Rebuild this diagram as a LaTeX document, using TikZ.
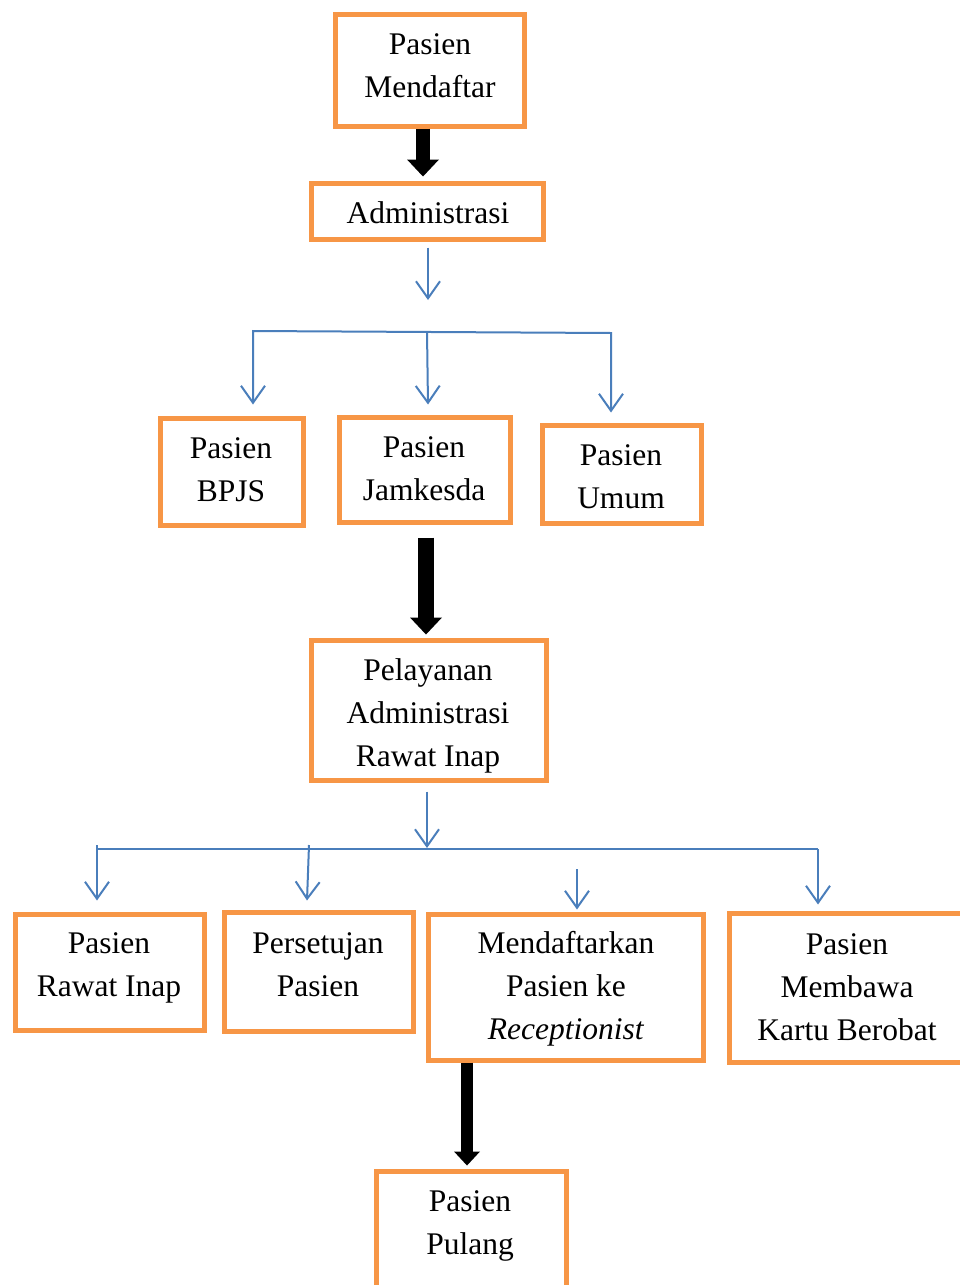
\documentclass[tikz,border=0pt]{standalone}
\usepackage{fontspec}
\setmainfont{Liberation Serif}
\usetikzlibrary{arrows.meta}
\definecolor{orng}{HTML}{F79646}
\definecolor{blu}{HTML}{4A7EBB}
\begin{document}
\begin{tikzpicture}[x=1pt,y=-1pt,
  box/.style={draw=orng,line width=5pt,inner sep=0pt,rectangle},
  txt/.style={align=center,inner sep=0pt,font=\fontsize{31.5}{43}\selectfont},
  bl/.style={draw=blu,line width=2pt},
  barb/.style={-{Straight Barb[length=17pt,width=24pt]}},
  blk/.style={draw=black,line width=14pt,-{Triangle[length=17pt,width=32pt,line width=0pt]}}]
\clip (0,0) rectangle (960,1285);
\fill[white] (0,0) rectangle (960,1285);
% boxes
\node[box,minimum width=189pt,minimum height=112pt] (b1) at (429.5,70) {};
\node[box,minimum width=232pt,minimum height=56pt] (b2) at (427,211) {};
\node[box,minimum width=143pt,minimum height=107pt] (b3) at (231.5,471.5) {};
\node[box,minimum width=171pt,minimum height=105pt] (b4) at (424.5,469.5) {};
\node[box,minimum width=159pt,minimum height=98pt] (b5) at (621.5,474) {};
\node[box,minimum width=235pt,minimum height=140pt] (b6) at (428.5,710) {};
\node[box,minimum width=189pt,minimum height=116pt] (b7) at (109.5,972) {};
\node[box,minimum width=189pt,minimum height=119pt] (b8) at (318.5,971.5) {};
\node[box,minimum width=275pt,minimum height=146pt] (b9) at (565.5,987) {};
\node[box,minimum width=236pt,minimum height=149pt] (b10) at (847,987.5) {};
\node[box,minimum width=190pt,minimum height=119pt] (b11) at (471,1230.5) {};
% texts
\node[txt] (t1) at (430,66) {Pasien\\Mendaftar};
\node[txt] (t2) at (428,213) {Administrasi};
\node[txt] (t3) at (231,470) {Pasien\\BPJS};
\node[txt] (t4) at (424,469) {Pasien\\Jamkesda};
\node[txt] (t5) at (621,477) {Pasien\\Umum};
\node[txt] (t6) at (428,716) {Pelayanan\\Administrasi\\Rawat Inap};
\node[txt] (t7) at (109,968) {Pasien\\Rawat Inap};
\node[txt] (t8) at (318,965) {Persetujan\\Pasien};
\node[txt] (t9) at (566,989) {Mendaftarkan\\Pasien ke\\\textit{Receptionist}};
\node[txt] (t10) at (847,987) {Pasien\\Membawa\\Kartu Berobat};
\node[txt] (t11) at (470,1226) {Pasien\\Pulang};
% black arrows
\draw[blk,shorten >=4pt] ([xshift=-6.5pt]b1.south) -- ([xshift=-6.5pt]b1.south |- b2.north);
\draw[blk,line width=16pt,shorten <=13pt,shorten >=3pt] ([xshift=1.5pt]b4.south) -- ([xshift=1.5pt]b4.south |- b6.north);
\draw[draw=black,line width=12pt,-{Triangle[length=14pt,width=26pt,line width=0pt]},shorten >=3pt] ([xshift=-98.5pt]b9.south) -- ([xshift=-98.5pt]b9.south |- b11.north);
% blue connectors, upper
\coordinate (c1) at (253,331);
\coordinate (c2) at (611,333);
\coordinate (c3) at (427,331.5);
\draw[bl,barb] ([xshift=1pt,yshift=-6pt]b2.south) -- (428,300) coordinate (e1);
\draw[bl,{Straight Barb[length=17pt,width=24pt]}-{Straight Barb[length=17pt,width=24pt]}]
  ([xshift=21.5pt,yshift=11pt]b3.north) -- (c1) -- (c2) -- ([xshift=-10.5pt,yshift=10pt]b5.north);
\draw[bl,barb] (c3) -- ([xshift=3.5pt,yshift=10pt]b4.north);
% blue connectors, lower
\coordinate (d1) at (97,849);
\coordinate (d2) at (818,849);
\coordinate (d3) at (309,845);
\coordinate (d4) at (97,845);
\coordinate (d5) at (577,869);
\draw[bl] (d1) -- (d2);
\draw[bl,barb] ([xshift=-1.5pt,yshift=-9pt]b6.south) -- (427,848) coordinate (e2);
\draw[bl,barb] (d4) -- ([xshift=-12.5pt,yshift=11pt]b7.north);
\draw[bl,barb] (d3) -- ([xshift=-11.5pt,yshift=9pt]b8.north);
\draw[bl,barb] (d5) -- ([xshift=11.5pt,yshift=2pt]b9.north);
\draw[bl,barb] (d2) -- ([xshift=-29pt,yshift=6pt]b10.north);
\end{tikzpicture}
\end{document}
